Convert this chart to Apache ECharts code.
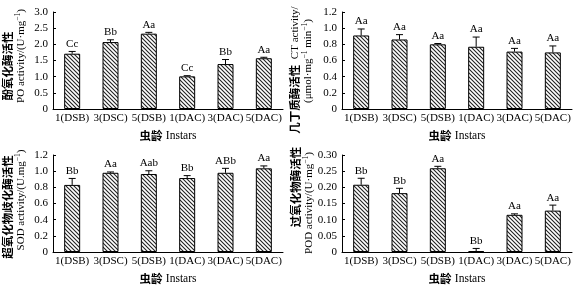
<!DOCTYPE html>
<html>
<head>
<meta charset="utf-8">
<script src="https://cdn.jsdelivr.net/npm/echarts@6/dist/echarts.min.js"></script>
<style>
html, body { margin: 0; padding: 0; background: #fff; }
#main { width: 577px; height: 288px; }
</style>
</head>
<body>
<div id="main"></div>
<script>
var categories = ['1(DSB)', '3(DSC)', '5(DSB)', '1(DAC)', '3(DAC)', '5(DAC)'];

// PO
var poValues = [1.71, 2.07, 2.33, 1.01, 1.39, 1.57];
var poErrors = [0.07, 0.07, 0.04, 0.02, 0.14, 0.03];
var poLetters = ['Cc', 'Bb', 'Aa', 'Cc', 'Bb', 'Aa'];
// CT
var ctValues = [0.91, 0.86, 0.80, 0.77, 0.71, 0.70];
var ctErrors = [0.08, 0.06, 0.01, 0.12, 0.04, 0.08];
var ctLetters = ['Aa', 'Aa', 'Aa', 'Aa', 'Aa', 'Aa'];
// SOD
var sodValues = [0.83, 0.98, 0.965, 0.915, 0.98, 1.035];
var sodErrors = [0.08, 0.01, 0.04, 0.03, 0.055, 0.03];
var sodLetters = ['Bb', 'Aa', 'Aab', 'Bb', 'ABb', 'Aa'];
// POD
var podValues = [0.208, 0.182, 0.259, 0.003, 0.115, 0.128];
var podErrors = [0.020, 0.015, 0.006, 0.008, 0.003, 0.017];
var podLetters = ['Bb', 'Bb', 'Aa', 'Bb', 'Aa', 'Aa'];

var serif = 'Liberation Serif';
var cjk = 'Noto Sans CJK SC';

// hatch fill "\\\\"
function makeHatch() {
    var c = document.createElement('canvas');
    var s = 4;
    c.width = s; c.height = s;
    var ctx = c.getContext('2d');
    ctx.fillStyle = '#fff';
    ctx.fillRect(0, 0, s, s);
    ctx.strokeStyle = '#222';
    ctx.lineWidth = 1.1;
    ctx.beginPath();
    ctx.moveTo(-1, -1); ctx.lineTo(s + 1, s + 1);
    ctx.moveTo(-1, s - 1); ctx.lineTo(1, s + 1);
    ctx.moveTo(s - 1, -1); ctx.lineTo(s + 1, 1);
    ctx.stroke();
    return c;
}
var hatch = { image: makeHatch(), repeat: 'repeat' };

var grids = [
    { left: 53, top: 12, width: 230, height: 97 },
    { left: 342, top: 12, width: 230, height: 97 },
    { left: 53, top: 155, width: 230, height: 97 },
    { left: 342, top: 155, width: 230, height: 97 }
];

function xAxisFor(i) {
    return {
        type: 'category', gridIndex: i, data: categories,
        axisLine: { lineStyle: { color: '#000', width: 1 } },
        axisTick: { inside: true, length: 3, lineStyle: { color: '#000' } },
        axisLabel: { interval: 0, margin: 4, fontFamily: serif, fontSize: 11, color: '#000' },
        name: '{cn|虫龄} {en|Instars}',
        nameLocation: 'middle',
        nameGap: 21,
        nameTextStyle: {
            rich: {
                cn: { fontFamily: cjk, fontWeight: 'bold', fontSize: 11.5, color: '#000' },
                en: { fontFamily: serif, fontSize: 11.5, color: '#000' }
            }
        }
    };
}

function yAxisFor(i, max, interval, digits) {
    return {
        type: 'value', gridIndex: i, min: 0, max: max, interval: interval,
        axisLine: { show: true, lineStyle: { color: '#000', width: 1 } },
        axisTick: { show: true, inside: true, length: 3, lineStyle: { color: '#000' } },
        splitLine: { show: false },
        axisLabel: {
            margin: 5, fontFamily: serif, fontSize: 11, color: '#000',
            formatter: function (v) { return v === 0 ? '0' : v.toFixed(digits); }
        }
    };
}

function barSeries(i, values) {
    return {
        type: 'bar', xAxisIndex: i, yAxisIndex: i, data: values, barWidth: 16,
        itemStyle: { color: hatch, borderColor: '#000', borderWidth: 1 },
        silent: true
    };
}

function errSeries(i, values, errors, letters) {
    var data = values.map(function (v, k) { return [k, v, errors[k]]; });
    return {
        type: 'custom', xAxisIndex: i, yAxisIndex: i, data: data, z: 5,
        renderItem: function (params, api) {
            var k = api.value(0), v = api.value(1), e = api.value(2);
            var p0 = api.coord([k, v]);
            var p1 = api.coord([k, v + e]);
            var cap = 3.5;
            return {
                type: 'group',
                children: [
                    { type: 'line', shape: { x1: p0[0], y1: p0[1], x2: p1[0], y2: p1[1] },
                      style: { stroke: '#000', lineWidth: 1 } },
                    { type: 'line', shape: { x1: p1[0] - cap, y1: p1[1], x2: p1[0] + cap, y2: p1[1] },
                      style: { stroke: '#000', lineWidth: 1 } },
                    { type: 'text', x: p1[0], y: p1[1] - 2,
                      style: { text: letters[params.dataIndex], fontFamily: serif, fontSize: 11,
                               fill: '#000', align: 'center', verticalAlign: 'bottom' } }
                ]
            };
        }
    };
}

var richY = {
    cn: { fontFamily: cjk, fontWeight: 'bold', fontSize: 11.5, fill: '#000' },
    en: { fontFamily: serif, fontSize: 11, fill: '#000' },
    sup: { fontFamily: serif, fontSize: 7.5, fill: '#000', verticalAlign: 'top' }
};

function yName(x, y, text) {
    return {
        type: 'text', x: x, y: y, rotation: Math.PI / 2,
        style: { text: text, rich: richY, align: 'center', verticalAlign: 'middle', lineHeight: 13 }
    };
}

var option = {
    animation: false,
    backgroundColor: '#fff',
    grid: grids,
    xAxis: [xAxisFor(0), xAxisFor(1), xAxisFor(2), xAxisFor(3)],
    yAxis: [
        yAxisFor(0, 3.0, 0.5, 1),
        yAxisFor(1, 1.2, 0.2, 1),
        yAxisFor(2, 1.2, 0.2, 1),
        yAxisFor(3, 0.30, 0.05, 2)
    ],
    series: [
        barSeries(0, poValues), errSeries(0, poValues, poErrors, poLetters),
        barSeries(1, ctValues), errSeries(1, ctValues, ctErrors, ctLetters),
        barSeries(2, sodValues), errSeries(2, sodValues, sodErrors, sodLetters),
        barSeries(3, podValues), errSeries(3, podValues, podErrors, podLetters)
    ],
    graphic: [
        yName(8, 66, '{cn|酚氧化酶活性}'),
        yName(21, 56, '{en|PO activity/(U·mg}{sup|−1}{en|)}'),
        yName(295, 70, '{cn|几丁质酶活性}{en|  CT activity/}'),
        yName(308, 61, '{en|(μmol·mg}{sup|−1}{en| min}{sup|−1}{en|)}'),
        yName(8, 207, '{cn|超氧化物歧化酶活性}'),
        yName(21, 200, '{en|SOD activity/(U.mg}{sup|−1}{en|)}'),
        yName(296, 187, '{cn|过氧化物酶活性}'),
        yName(309, 203, '{en|POD activity/(U·mg}{sup|−1}{en|)}')
    ]
};

var myChart = echarts.init(document.getElementById('main'), null, { renderer: 'canvas' });
myChart.setOption(option);
</script>
</body>
</html>
